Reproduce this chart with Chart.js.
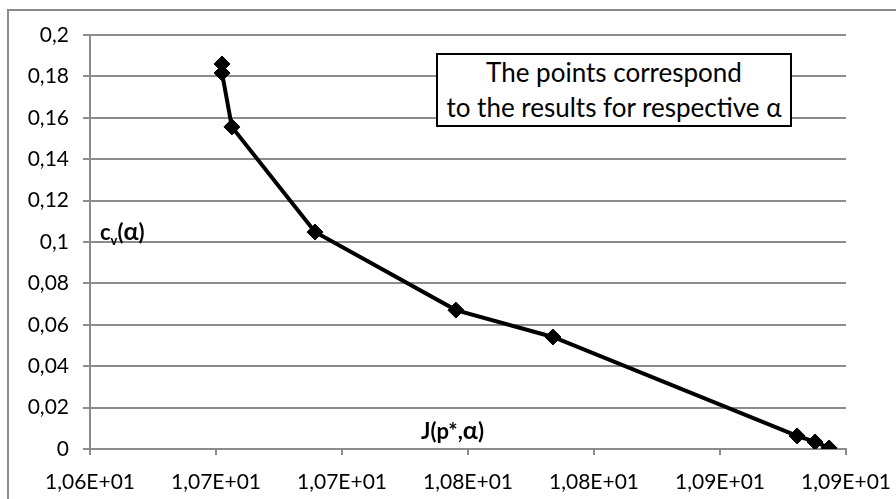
<!DOCTYPE html>
<html lang="en">
<head>
    <meta charset="UTF-8">
    <title>J(p*,α) vs c_v(α)</title>
    <script src="https://cdn.jsdelivr.net/npm/chart.js"></script>
    <style>
        html, body { margin: 0; padding: 0; background: #fff; }
        body { width: 896px; height: 499px; overflow: hidden; position: relative; font-family: Lato, "Open Sans", sans-serif; }
        .frame { position: absolute; left: 7px; top: 9px; width: 1000px; height: 1000px; border: 2px solid #8c8c8c; box-sizing: border-box; }
        .wrap { position: absolute; left: 0; top: 0; width: 896px; height: 499px; }
        .note { position: absolute; left: 436px; top: 53px; width: 356px; height: 74px; border: 2px solid #000; background: #fff; box-sizing: border-box;
                text-align: center; font-size: 26px; line-height: 35px; color: #000; padding-top: 0px; white-space: nowrap; }
        .lbl { position: absolute; font-weight: bold; font-size: 22px; color: #000; }
        .lbl sub { font-size: 13px; }
        .lbl .a { font-size: 25px; }
    </style>
</head>
<body>
    <div class="frame"></div>
    <div class="wrap"><canvas id="chart"></canvas></div>
    <div class="lbl" style="left:100px; top:215px;">c<sub>v</sub>(<span class="a">α</span>)</div>
    <div class="lbl" style="left:421px; top:414px;">J(p*,<span class="a">α</span>)</div>
    <div class="note">The points correspond<br>to the results for respective α</div>

    <script>
        // J(p*, alpha) on x, c_v(alpha) on y
        const jValues  = [10.6524, 10.6524, 10.6563, 10.6893, 10.7452, 10.7837, 10.8806, 10.8877, 10.8933];
        const cvValues = [0.186, 0.1816, 0.1556, 0.1048, 0.0671, 0.0541, 0.0063, 0.0034, 0.0005];

        const xTickLabels = ['1,06E+01', '1,07E+01', '1,07E+01', '1,08E+01', '1,08E+01', '1,09E+01', '1,09E+01'];
        const yTickLabels = ['0', '0,02', '0,04', '0,06', '0,08', '0,1', '0,12', '0,14', '0,16', '0,18', '0,2'];

        const gridGray = '#8c8c8c';

        new Chart(document.getElementById('chart'), {
            type: 'scatter',
            data: {
                datasets: [{
                    data: jValues.map((x, i) => ({ x: x, y: cvValues[i] })),
                    showLine: true,
                    borderColor: '#000',
                    borderWidth: 4,
                    pointStyle: 'rectRot',
                    pointRadius: 8,
                    pointBackgroundColor: '#000',
                    pointBorderColor: '#000',
                    pointBorderWidth: 1,
                    tension: 0
                }]
            },
            options: {
                responsive: true,
                maintainAspectRatio: false,
                animation: false,
                layout: { padding: { left: 0, top: 35, right: 50, bottom: 0 } },
                plugins: { legend: { display: false }, tooltip: { enabled: false } },
                scales: {
                    x: {
                        type: 'linear',
                        min: 10.6,
                        max: 10.9,
                        // fixed height, and keep the label overhang from shrinking the plot
                        afterFit: s => { s.height = 50; s.paddingRight = 0; s.paddingLeft = 0; },
                        ticks: {
                            stepSize: 0.05,
                            color: '#000',
                            font: { family: 'Lato', size: 21 },
                            padding: 15,
                            maxRotation: 0,
                            autoSkip: false,
                            callback: (v, i) => xTickLabels[i]
                        },
                        grid: { drawOnChartArea: false, color: gridGray, lineWidth: 2, tickLength: 6 },
                        border: { color: gridGray, width: 2 }
                    },
                    y: {
                        min: 0,
                        max: 0.2,
                        afterFit: s => { s.width = 90; },
                        ticks: {
                            stepSize: 0.02,
                            color: '#000',
                            font: { family: 'Lato', size: 21 },
                            padding: 14,
                            callback: (v, i) => yTickLabels[i]
                        },
                        grid: { color: gridGray, lineWidth: 2, tickLength: 7 },
                        border: { color: gridGray, width: 2 }
                    }
                }
            }
        });
    </script>
</body>
</html>
